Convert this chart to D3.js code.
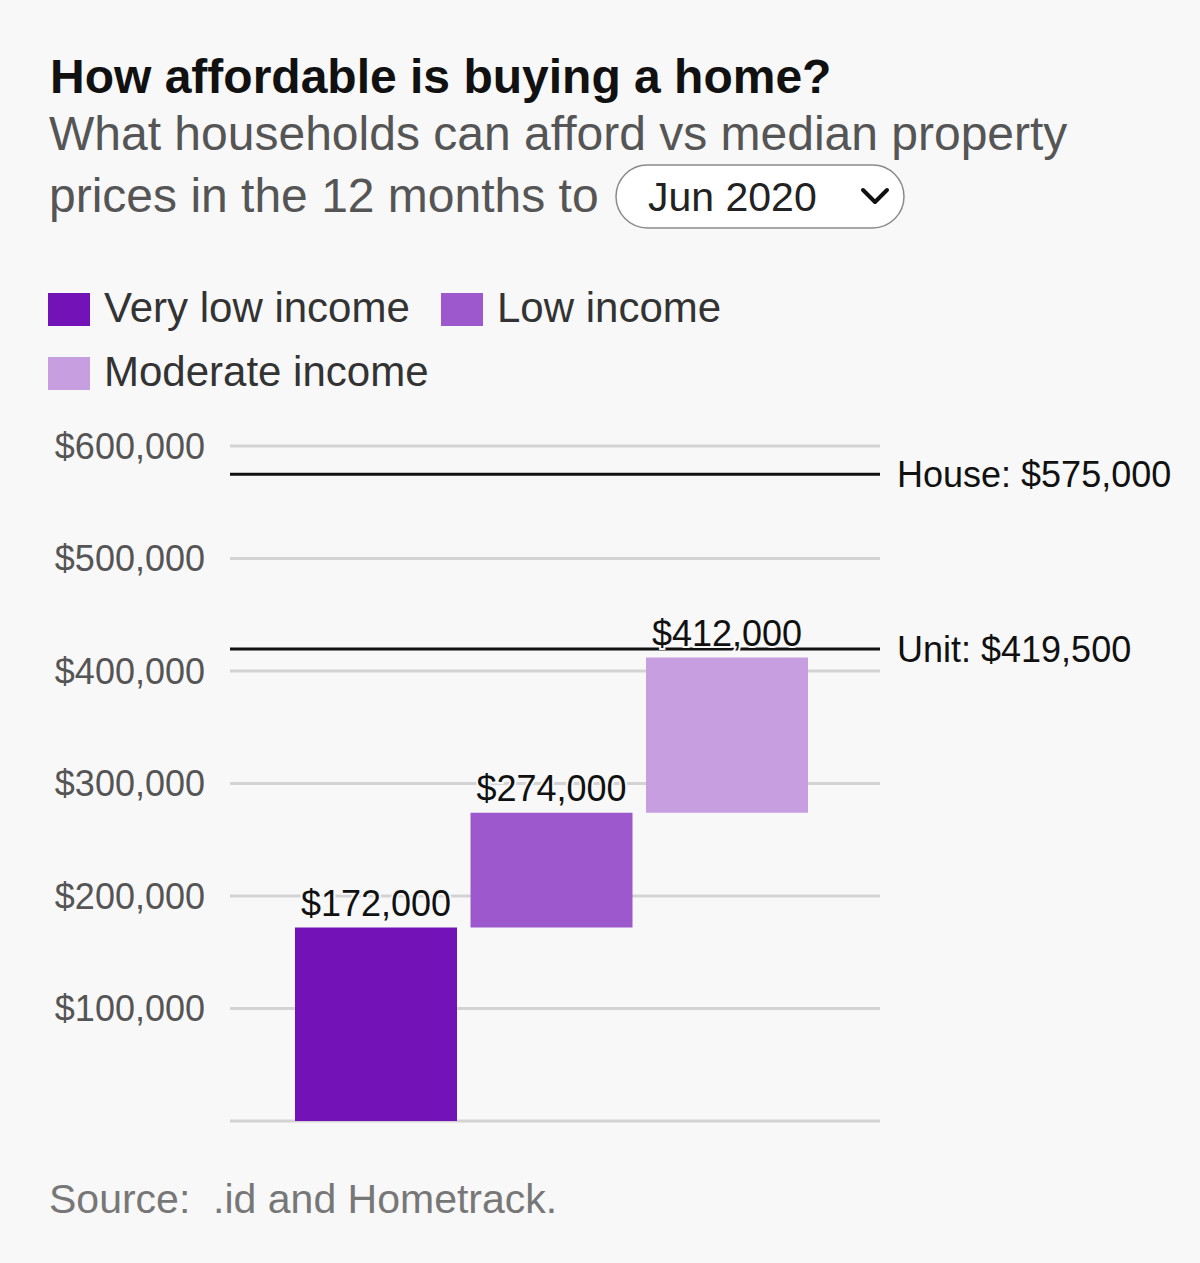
<!DOCTYPE html>
<html>
<head>
<meta charset="utf-8">
<script src="https://cdn.jsdelivr.net/npm/d3@7"></script>
<style>
  html, body { margin: 0; padding: 0; background: #f8f8f8; }
  svg { display: block; font-family: "Liberation Sans", Arial, Helvetica, sans-serif; }
</style>
</head>
<body>
<svg id="chart" width="1200" height="1263"></svg>
<script>
// ---- data ----
const categories = ["Very low income", "Low income", "Moderate income"];
const barStarts = [0, 172000, 274000];
const barEnds = [172000, 274000, 412000];
const barLabels = ["$172,000", "$274,000", "$412,000"];
const colors = ["#7312b6", "#9c58cc", "#c79ee0"];
const yTicks = [0, 100000, 200000, 300000, 400000, 500000, 600000];
const refNames = ["House", "Unit"];
const refValues = [575000, 419500];
const refLabels = ["House: $575,000", "Unit: $419,500"];

const svg = d3.select("#chart");
svg.append("rect").attr("width", 1200).attr("height", 1263).attr("fill", "#f8f8f8");

// ---- titles ----
svg.append("text").attr("x", 50).attr("y", 93)
  .attr("font-size", 48).attr("font-weight", "bold").attr("fill", "#111")
  .text("How affordable is buying a home?");
svg.append("text").attr("x", 49).attr("y", 150)
  .attr("font-size", 48).attr("fill", "#555")
  .text("What households can afford vs median property");
svg.append("text").attr("x", 49).attr("y", 212)
  .attr("font-size", 48).attr("fill", "#555")
  .text("prices in the 12 months to");

// dropdown
const dd = svg.append("g");
dd.append("rect").attr("x", 616).attr("y", 165).attr("width", 288).attr("height", 63)
  .attr("rx", 31.5).attr("fill", "#fff").attr("stroke", "#8a8a8a").attr("stroke-width", 1.5);
dd.append("text").attr("x", 648).attr("y", 211).attr("font-size", 41).attr("fill", "#222")
  .text("Jun 2020");
dd.append("path").attr("d", "M863,190 L875,202 L887,190")
  .attr("fill", "none").attr("stroke", "#111").attr("stroke-width", 4)
  .attr("stroke-linecap", "round").attr("stroke-linejoin", "round");

// ---- legend ----
const legendPos = [[48, 293], [441, 293], [48, 357]];
const lg = svg.append("g").selectAll("g").data(categories).join("g")
  .attr("transform", (d, i) => `translate(${legendPos[i][0]},${legendPos[i][1]})`);
lg.append("rect").attr("width", 42).attr("height", 33).attr("fill", (d, i) => colors[i]);
lg.append("text").attr("x", 56).attr("y", 29).attr("font-size", 42).attr("fill", "#333")
  .text(d => d);

// ---- scales ----
const y = d3.scaleLinear().domain([0, 600000]).range([1121, 446]);
const x = d3.scaleBand().domain(categories).range([295, 808]).paddingInner(0.077).paddingOuter(0);
const gridX0 = 230, gridX1 = 880;

// gridlines
svg.append("g").selectAll("line").data(yTicks).join("line")
  .attr("x1", gridX0).attr("x2", gridX1)
  .attr("y1", d => y(d)).attr("y2", d => y(d))
  .attr("stroke", "#d3d3d3").attr("stroke-width", 3);

// y axis labels
const yAxis = d3.axisLeft(y).tickValues(yTicks.filter(d => d > 0))
  .tickFormat(d => "$" + d3.format(",")(d)).tickSize(0).tickPadding(0);
const ya = svg.append("g").attr("transform", "translate(205,0)").call(yAxis);
ya.select(".domain").remove();
ya.selectAll("text").attr("font-size", 36).attr("fill", "#555")
  .attr("font-family", "'Liberation Sans', Arial, sans-serif").attr("dy", "0.34em");

// bars
svg.append("g").selectAll("rect").data(categories).join("rect")
  .attr("x", d => x(d)).attr("width", x.bandwidth())
  .attr("y", (d, i) => y(barEnds[i]))
  .attr("height", (d, i) => y(barStarts[i]) - y(barEnds[i]))
  .attr("fill", (d, i) => colors[i]);

// reference lines
svg.append("g").selectAll("line").data(refValues).join("line")
  .attr("x1", gridX0).attr("x2", gridX1)
  .attr("y1", d => y(d)).attr("y2", d => y(d))
  .attr("stroke", "#111").attr("stroke-width", 3);
svg.append("g").selectAll("text").data(refLabels).join("text")
  .attr("x", 897).attr("y", (d, i) => y(refValues[i]))
  .attr("dy", "0.36em").attr("font-size", 36).attr("fill", "#111")
  .text(d => d);

// bar labels
svg.append("g").selectAll("text").data(categories).join("text")
  .attr("x", d => x(d) + x.bandwidth() / 2)
  .attr("y", (d, i) => y(barEnds[i]) - 12)
  .attr("text-anchor", "middle").attr("font-size", 36).attr("fill", "#111")
  .attr("stroke", "#f8f8f8").attr("stroke-width", 4).attr("paint-order", "stroke")
  .text((d, i) => barLabels[i]);

// source
svg.append("text").attr("x", 49).attr("y", 1213).attr("font-size", 41).attr("fill", "#777")
  .text("Source:  .id and Hometrack.").attr("xml:space", "preserve").style("white-space", "pre");
</script>
</body>
</html>
